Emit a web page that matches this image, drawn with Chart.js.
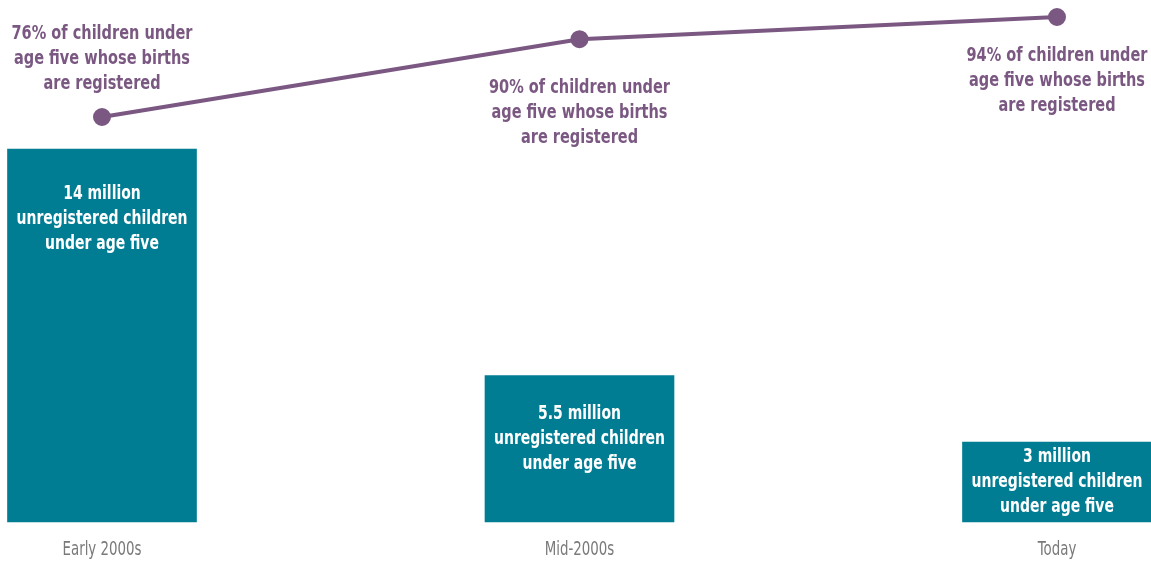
<!DOCTYPE html>
<html>
<head>
<meta charset="utf-8">
<script src="https://cdn.jsdelivr.net/npm/chart.js@4.4.1/dist/chart.umd.min.js"></script>
<style>
  html, body { margin: 0; padding: 0; background: #fff; }
  #wrap { width: 1151px; height: 561px; position: relative; }
</style>
</head>
<body>
<div id="wrap"><canvas id="registroChart"></canvas></div>
<script>
// periods on the x axis
const periodos = ["Early 2000s", "Mid-2000s", "Today"];
// unregistered children under five (millions)
const naoRegistradas = [14, 5.5, 3];
// share of under-fives whose births are registered (%)
const registradasPct = [76, 90, 94];

const barLabels = naoRegistradas.map(v => [v + " million", "unregistered children", "under age five"]);
const lineLabels = registradasPct.map(v => [v + "% of children under", "age five whose births", "are registered"]);

const TEAL = "#007d93";
const PURPLE = "#7a5882";
const FONT = "'DejaVu Sans', sans-serif";

// no narrow face installed, so squeeze the text horizontally
function textoEstreito(ctx, txt, x, y, sx) {
  ctx.save();
  ctx.translate(x, y);
  ctx.scale(sx, 1);
  ctx.fillText(txt, 0, 0);
  ctx.restore();
}

// writes the text blocks inside the bars, next to the line points and under the axis
const textoPlugin = {
  id: "textoPlugin",
  afterDatasetsDraw(chart) {
    const ctx = chart.ctx;
    ctx.save();
    ctx.textAlign = "center";
    ctx.textBaseline = "middle";

    ctx.font = "bold 19px " + FONT;
    const sxBarra = 171 / ctx.measureText("unregistered children").width;
    const sxLinha = 181 / ctx.measureText("76% of children under").width;

    const barras = chart.getDatasetMeta(1).data;
    const recuo = [45, 39, 15]; // gap between bar top and first line
    ctx.fillStyle = "#ffffff";
    barras.forEach((bar, i) => {
      barLabels[i].forEach((txt, j) => {
        textoEstreito(ctx, txt, bar.x, bar.y + recuo[i] + j * 25, sxBarra);
      });
    });

    const pontos = chart.getDatasetMeta(0).data;
    const deslocamento = [-83, 49, 39]; // first block sits above its point, the others below
    ctx.fillStyle = PURPLE;
    pontos.forEach((pt, i) => {
      lineLabels[i].forEach((txt, j) => {
        textoEstreito(ctx, txt, pt.x, pt.y + deslocamento[i] + j * 25, sxLinha);
      });
    });

    // category names
    ctx.font = "19px " + FONT;
    const sxEixo = 79 / ctx.measureText("Early 2000s").width;
    ctx.fillStyle = "#7a7a7a";
    const xs = chart.scales.x;
    periodos.forEach((p, i) => {
      textoEstreito(ctx, p, xs.getPixelForTick(i), chart.chartArea.bottom + 28, sxEixo);
    });
    ctx.restore();
  }
};

const ctx = document.getElementById("registroChart").getContext("2d");
new Chart(ctx, {
  data: {
    labels: periodos,
    datasets: [
      {
        type: "line",
        data: registradasPct,
        yAxisID: "y2",
        borderColor: PURPLE,
        backgroundColor: PURPLE,
        borderWidth: 4,
        pointRadius: 7,
        pointHoverRadius: 7,
        tension: 0,
        clip: false,
        order: 0
      },
      {
        type: "bar",
        data: naoRegistradas,
        yAxisID: "y",
        backgroundColor: TEAL,
        barThickness: 189,
        clip: false,
        order: 1
      }
    ]
  },
  options: {
    responsive: true,
    maintainAspectRatio: false,
    animation: false,
    layout: { padding: { left: 102, right: 94, top: 0, bottom: 39 } },
    plugins: { legend: { display: false }, tooltip: { enabled: false } },
    scales: {
      x: { display: false, offset: false },
      y: { display: false, min: 0, max: 19.18 },
      y2: { display: false, min: 3.1, max: 95.08 }
    }
  },
  plugins: [textoPlugin]
});
</script>
</body>
</html>
